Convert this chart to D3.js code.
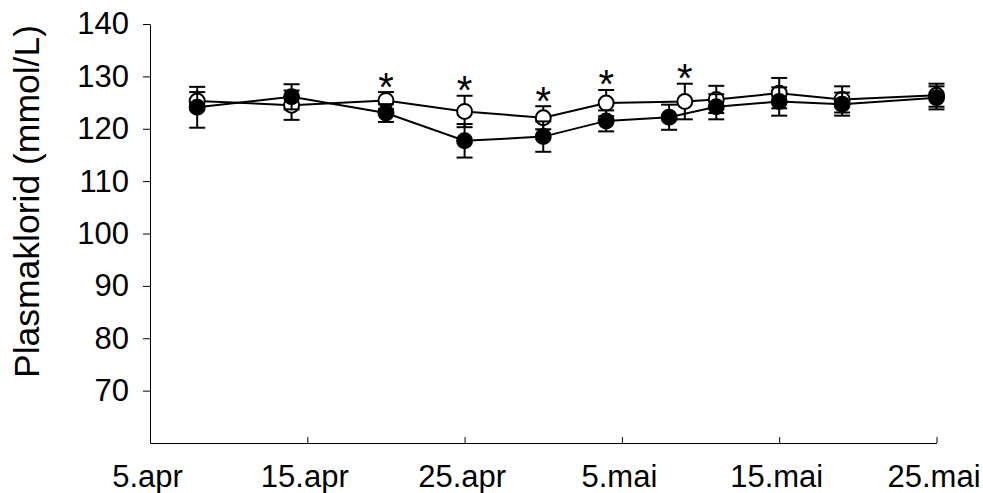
<!DOCTYPE html>
<html>
<head>
<meta charset="utf-8">
<script src="https://cdn.jsdelivr.net/npm/d3@7"></script>
<style>
  html, body { margin: 0; padding: 0; background: #fff; }
  svg { display: block; font-family: "Liberation Sans", Arial, sans-serif; }
</style>
</head>
<body>
<svg id="chart" width="983" height="493"></svg>
<script>
// Sampling dates (day-month) for each group
const openDates   = ["04-08", "04-14", "04-20", "04-25", "04-30", "05-04", "05-09", "05-11", "05-15", "05-19", "05-25"];
const filledDates = ["04-08", "04-14", "04-20", "04-25", "04-30", "05-04", "05-08", "05-11", "05-15", "05-19", "05-25"];

// Plasma chloride means and error (mmol/L)
const openValues   = [125.3, 124.5, 125.4, 123.3, 122.1, 124.9, 125.2, 125.6, 126.8, 125.6, 126.4];
const openErrors   = [1.7, 2.8, 1.6, 3.0, 2.2, 2.5, 3.4, 2.6, 2.9, 2.5, 2.2];
const filledValues = [124.1, 126.1, 123.0, 117.7, 118.5, 121.5, 122.2, 124.2, 125.2, 124.7, 125.9];
const filledErrors = [3.9, 2.4, 1.7, 3.2, 2.9, 2.0, 2.4, 2.4, 2.7, 2.2, 2.2];

// Significant differences, marked on the open series
const starred = [false, false, true, true, true, true, true, false, false, false, false];

// Axis ticks
const xTickDates  = ["04-05", "04-15", "04-25", "05-05", "05-15", "05-25"];
const xTickLabels = ["5.apr", "15.apr", "25.apr", "5.mai", "15.mai", "25.mai"];
const yTicks = [70, 80, 90, 100, 110, 120, 130, 140];
const yLabel = "Plasmaklorid (mmol/L)";

const YEAR = 2001;
const toDate = s => { const [m, d] = s.split("-").map(Number); return new Date(Date.UTC(YEAR, m - 1, d)); };

const svg = d3.select("#chart");
const FONT = 31;

const x = d3.scaleUtc()
  .domain([toDate("04-05"), toDate("05-25")])
  .range([150, 936.5]);
const y = d3.scaleLinear()
  .domain([60, 140])
  .range([443, 24]);

// X axis (ticks pointing into the plot)
const xAxis = d3.axisBottom(x)
  .tickValues(xTickDates.map(toDate))
  .tickFormat((d, i) => xTickLabels[i])
  .tickSizeInner(-6)
  .tickSizeOuter(0)
  .tickPadding(22);
const gx = svg.append("g").attr("transform", `translate(0,${y(60)})`).call(xAxis);
gx.selectAll("text").attr("dx", -3);

// Y axis (ticks pointing outward)
const yAxis = d3.axisLeft(y)
  .tickValues(yTicks)
  .tickSizeInner(7)
  .tickSizeOuter(0)
  .tickPadding(14);
const gy = svg.append("g").attr("transform", `translate(${x(toDate("04-05"))},0)`).call(yAxis);

[gx, gy].forEach(g => {
  g.selectAll("path, line").attr("stroke", "#000").attr("stroke-width", 1);
  g.selectAll("text").attr("font-size", FONT).attr("fill", "#000")
    .attr("font-family", '"Liberation Sans", Arial, sans-serif');
});

svg.append("text")
  .attr("transform", `translate(27,${(y(60) + y(140)) / 2 - 32}) rotate(-90)`)
  .attr("text-anchor", "middle")
  .attr("dy", "0.35em")
  .attr("font-size", 35.5)
  .attr("fill", "#000")
  .text(yLabel);

function series(dates, values, errors, fill) {
  const data = dates.map((d, i) => ({ x: x(toDate(d)), v: values[i], e: errors[i], star: starred[i] }));
  const g = svg.append("g");
  g.append("path")
    .datum(data)
    .attr("fill", "none")
    .attr("stroke", "#000")
    .attr("stroke-width", 2)
    .attr("d", d3.line().x(d => d.x).y(d => y(d.v)));
  const eb = g.selectAll(".eb").data(data).join("g");
  eb.append("line")
    .attr("x1", d => d.x).attr("x2", d => d.x)
    .attr("y1", d => y(d.v - d.e)).attr("y2", d => y(d.v + d.e))
    .attr("stroke", "#000").attr("stroke-width", 2);
  [-1, 1].forEach(s => {
    eb.append("line")
      .attr("x1", d => d.x - 8).attr("x2", d => d.x + 8)
      .attr("y1", d => y(d.v + s * d.e)).attr("y2", d => y(d.v + s * d.e))
      .attr("stroke", "#000").attr("stroke-width", 2);
  });
  g.selectAll("circle").data(data).join("circle")
    .attr("cx", d => d.x).attr("cy", d => y(d.v))
    .attr("r", 7.5)
    .attr("fill", fill)
    .attr("stroke", "#000")
    .attr("stroke-width", 2);
  return data;
}

const openData = series(openDates, openValues, openErrors, "#fff");
series(filledDates, filledValues, filledErrors, "#000");

svg.append("g").selectAll("text")
  .data(openData.filter(d => d.star))
  .join("text")
  .attr("x", d => d.x)
  .attr("y", d => y(d.v + d.e) + 8.5)
  .attr("text-anchor", "middle")
  .attr("font-size", 40)
  .attr("fill", "#000")
  .text("*");
</script>
</body>
</html>
